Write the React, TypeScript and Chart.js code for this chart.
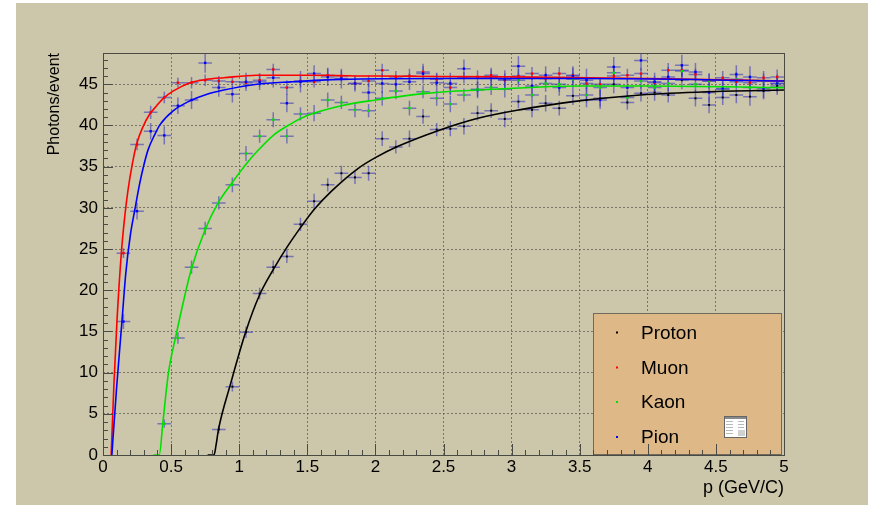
import React, { useEffect, useRef } from "react";
import { Chart, registerables } from "chart.js";

Chart.register(...registerables);

// ---------- data ----------
const binCenters = [
  0.15, 0.25, 0.35, 0.45, 0.55, 0.65, 0.75, 0.85, 0.95,
  1.05, 1.15, 1.25, 1.35, 1.45, 1.55, 1.65, 1.75, 1.85, 1.95,
  2.05, 2.15, 2.25, 2.35, 2.45, 2.55, 2.65, 2.75, 2.85, 2.95,
  3.05, 3.15, 3.25, 3.35, 3.45, 3.55, 3.65, 3.75, 3.85, 3.95,
  4.05, 4.15, 4.25, 4.35, 4.45, 4.55, 4.65, 4.75, 4.85, 4.95,
];
const binHalfWidth = 0.05;

const seriesNames = ["Proton", "Muon", "Kaon", "Pion"];

const protonY = [
  null, null, null, null, null, null, null, 3.1, 8.3,
  14.9, 19.6, 22.8, 24.1, 28.0, 30.8, 32.8, 34.2, 33.7, 34.2,
  38.4, 37.4, 38.4, 41.1, 39.5, 39.6, 39.9, 41.5, 41.8, 40.8,
  42.9, 41.9, 42.7, 42.1, 43.6, 43.1, 43.3, 45.0, 42.8, 43.9,
  44.0, 43.7, 45.5, 43.3, 42.5, 43.4, 43.7, 43.5, 44.2, 44.8,
];
const protonErr = [
  null, null, null, null, null, null, null, 0.5, 0.6,
  0.7, 0.7, 0.8, 0.8, 0.8, 0.9, 0.8, 0.9, 0.8, 0.9,
  0.9, 0.8, 1.0, 0.9, 0.8, 0.9, 1.0, 0.9, 0.9, 1.0,
  0.8, 0.9, 1.0, 0.9, 1.1, 0.9, 1.0, 1.1, 0.9, 1.0,
  1.0, 0.9, 1.1, 1.0, 1.0, 0.9, 1.0, 1.1, 1.0, 1.1,
];

const muonY = [
  24.5, 37.7, 41.6, 43.4, 45.2, 45.2, 45.5, 45.4, 45.3,
  45.2, 45.5, 46.8, 44.6, 45.4, 45.3, 46.1, 46.0, 45.1, 45.4,
  46.7, 45.9, 46.0, 46.5, 45.6, 44.6, 45.8, 45.9, 46.1, 45.5,
  46.0, 46.3, 45.7, 46.3, 46.1, 45.1, 45.0, 46.0, 46.1, 46.3,
  45.2, 46.7, 46.7, 46.2, 45.4, 45.8, 45.3, 45.2, 45.8, 45.9,
];
const muonErr = [
  0.6, 0.7, 0.8, 0.7, 0.6, 0.7, 0.7, 0.6, 0.6,
  0.7, 0.8, 0.7, 0.9, 0.8, 0.7, 0.8, 0.7, 0.8, 0.7,
  0.8, 0.7, 0.9, 0.7, 0.8, 0.9, 0.7, 0.8, 0.7, 0.8,
  0.9, 0.8, 0.7, 0.8, 0.9, 0.7, 0.8, 0.9, 0.8, 0.7,
  0.8, 0.9, 0.8, 0.7, 0.9, 0.8, 0.7, 0.8, 0.8, 0.9,
];

const kaonY = [
  null, null, null, 3.8, 14.2, 22.8, 27.5, 30.6, 32.8,
  36.6, 38.7, 40.7, 38.7, 41.4, 41.5, 43.1, 42.8, 41.9, 41.8,
  43.3, 44.2, 42.1, 44.1, 43.3, 42.6, 43.7, 44.4, 44.6, 44.4,
  45.5, 43.7, 45.1, 45.0, 45.6, 43.7, 44.6, 46.4, 43.4, 45.4,
  44.6, 45.1, 46.6, 45.0, 45.4, 44.4, 45.6, 44.6, 45.4, 45.1,
];
const kaonErr = [
  null, null, null, 0.5, 0.7, 0.8, 0.8, 0.8, 0.9,
  0.9, 0.8, 0.9, 0.9, 0.8, 1.0, 0.9, 0.8, 0.9, 0.8,
  0.9, 1.0, 0.9, 0.8, 0.9, 1.0, 0.8, 0.9, 0.9, 1.0,
  0.8, 0.9, 1.0, 0.9, 0.8, 0.9, 1.0, 0.9, 0.8, 0.9,
  1.0, 0.9, 0.8, 1.0, 0.9, 0.8, 0.9, 1.0, 0.9, 0.8,
];

const pionY = [
  16.2, 29.6, 39.3, 38.8, 42.4, 43.1, 47.6, 44.6, 43.8,
  45.3, 45.3, 45.8, 42.7, 45.3, 46.3, 45.9, 45.7, 45.1, 44.0,
  45.1, 45.0, 45.3, 46.3, 45.2, 45.1, 46.9, 44.3, 45.8, 45.6,
  47.2, 44.8, 46.1, 44.6, 46.0, 45.5, 43.1, 47.1, 44.6, 47.9,
  45.3, 45.9, 47.3, 46.5, 44.0, 44.5, 46.2, 45.9, 44.5, 45.1,
];
const pionErr = [
  0.9, 1.0, 1.0, 1.1, 1.0, 1.1, 1.2, 1.1, 1.0,
  1.1, 1.0, 1.2, 1.1, 1.3, 1.0, 1.1, 1.2, 1.0, 1.1,
  1.2, 1.1, 1.0, 1.2, 1.1, 1.3, 1.1, 1.0, 1.2, 1.1,
  1.2, 1.3, 1.1, 1.0, 1.2, 1.4, 1.1, 1.2, 1.0, 1.3,
  1.1, 1.2, 1.3, 1.1, 1.2, 1.0, 1.1, 1.3, 1.2, 1.1,
];

// fitted curves
const protonFitX = [0.768, 0.815, 0.83, 0.848, 0.936, 1.047, 1.146, 1.25, 1.35, 1.45, 1.55, 1.676, 1.874, 2.0, 2.17, 2.465, 2.76, 3.057, 3.45, 3.944, 4.437, 5.0];
const protonFitY = [0, 0, 1.2, 3.1, 8.6, 14.9, 19.3, 22.5, 25.2, 27.6, 29.8, 32.0, 34.8, 36.1, 37.5, 39.4, 40.9, 41.9, 42.9, 43.7, 44.1, 44.3];

const muonFitX = [0.06, 0.08, 0.103, 0.135, 0.16, 0.184, 0.215, 0.246, 0.295, 0.34, 0.394, 0.443, 0.517, 0.64, 0.76, 0.887, 1.13, 1.5, 2.0, 3.0, 4.0, 5.0];
const muonFitY = [0, 8.5, 16.4, 24.6, 29.0, 32.2, 35.3, 37.7, 39.9, 41.3, 42.4, 43.3, 44.2, 45.2, 45.6, 45.8, 46.1, 46.1, 46.0, 45.9, 45.7, 45.4];

const kaonFitX = [0.37, 0.413, 0.44, 0.48, 0.537, 0.6, 0.646, 0.746, 0.845, 0.95, 1.05, 1.134, 1.257, 1.38, 1.5, 1.75, 2.0, 2.37, 2.86, 3.5, 4.0, 5.0];
const kaonFitY = [0, 0, 4.0, 9.9, 14.6, 19.3, 22.4, 27.2, 30.6, 33.1, 35.3, 36.9, 38.9, 40.2, 41.2, 42.4, 43.1, 43.9, 44.4, 44.8, 44.8, 44.6];

const pionFitX = [0.065, 0.1, 0.14, 0.167, 0.2, 0.234, 0.27, 0.3, 0.332, 0.38, 0.419, 0.517, 0.64, 0.764, 0.887, 1.13, 1.38, 1.75, 2.5, 3.5, 5.0];
const pionFitY = [0, 8.2, 16.4, 22.0, 26.6, 29.8, 33.0, 35.2, 37.1, 38.9, 40.1, 41.8, 43.0, 43.8, 44.3, 45.0, 45.3, 45.6, 45.7, 45.7, 45.4];

const xTitle = "p (GeV/C)";
const yTitle = "Photons/event";

// ---------- style ----------
const BG = "rgb(204,198,170)";
const LEGEND_BG = "rgb(222,184,135)";
const FRAME = "#4a4a44";
const ERR_COLOR = "rgba(50,50,190,0.55)";
const COLORS = ["#000000", "#ff0000", "#00e000", "#0000ff"];
const FONT = "'Liberation Sans', Arial, Helvetica, sans-serif";

const points = (ys: (number | null)[]) =>
  binCenters
    .map((x, i) => (ys[i] == null ? null : { x, y: ys[i] as number }))
    .filter((p) => p !== null) as { x: number; y: number }[];
const errs = (ys: (number | null)[], es: (number | null)[]) =>
  binCenters
    .map((x, i) => (ys[i] == null ? null : { x, y: ys[i] as number, e: es[i] as number }))
    .filter((p) => p !== null);
const curve = (xs: number[], ys: number[]) => xs.map((x, i) => ({ x, y: ys[i] }));

export default function App() {
  const ref = useRef<HTMLCanvasElement | null>(null);

  useEffect(() => {
    const canvas = ref.current;
    if (!canvas) return;

    const seriesY = [protonY, muonY, kaonY, pionY];
    const seriesE = [protonErr, muonErr, kaonErr, pionErr];
    const fits = [
      curve(protonFitX, protonFitY),
      curve(muonFitX, muonFitY),
      curve(kaonFitX, kaonFitY),
      curve(pionFitX, pionFitY),
    ];

    const pointSets: any[] = seriesNames.map((name, k) => ({
      label: name,
      data: points(seriesY[k]),
      errData: errs(seriesY[k], seriesE[k]),
      pointStyle: "rect",
      pointRadius: k === 0 ? 1.4 : 1.7,
      pointBackgroundColor: COLORS[k],
      pointBorderWidth: 0,
      showLine: false,
      order: 10 + (3 - k),
    }));
    const fitSets: any[] = seriesNames.map((name, k) => ({
      label: name + " fit",
      data: fits[k],
      showLine: true,
      pointRadius: 0,
      borderColor: COLORS[k],
      borderWidth: 1.6,
      cubicInterpolationMode: "monotone",
      fill: false,
      order: 3 - k,
    }));

    const rootPlugin = {
      id: "rootStyle",
      beforeDraw(chart: any) {
        const c = chart.ctx;
        c.save();
        c.fillStyle = BG;
        c.fillRect(0, 0, chart.width, chart.height);
        c.restore();
      },
      beforeDatasetsDraw(chart: any) {
        const c = chart.ctx;
        const xs = chart.scales.x;
        const ys = chart.scales.y;
        const a = chart.chartArea;
        c.save();
        c.beginPath();
        c.rect(a.left, a.top, a.right - a.left, a.bottom - a.top);
        c.clip();
        c.strokeStyle = ERR_COLOR;
        c.lineWidth = 1.5;
        chart.data.datasets.forEach((ds: any) => {
          if (!ds.errData) return;
          ds.errData.forEach((p: any) => {
            const px = xs.getPixelForValue(p.x);
            const py = ys.getPixelForValue(p.y);
            const x0 = xs.getPixelForValue(p.x - binHalfWidth);
            const x1 = xs.getPixelForValue(p.x + binHalfWidth);
            const y0 = ys.getPixelForValue(p.y - p.e);
            const y1 = ys.getPixelForValue(p.y + p.e);
            c.beginPath();
            c.moveTo(x0, py);
            c.lineTo(x1, py);
            c.moveTo(px, y0);
            c.lineTo(px, y1);
            c.stroke();
          });
        });
        c.restore();
      },
      afterDatasetsDraw(chart: any) {
        const c = chart.ctx;
        const a = chart.chartArea;
        // legend box
        const lx = 577, ly = 310, lw = a.right - 2 - 577, lh = a.bottom - 310;
        c.save();
        c.fillStyle = LEGEND_BG;
        c.fillRect(lx, ly, lw, lh);
        c.strokeStyle = "#6e6a5e";
        c.lineWidth = 1;
        c.strokeRect(lx + 0.5, ly + 0.5, lw - 1, lh - 1);
        c.font = `19px ${FONT}`;
        c.textBaseline = "middle";
        c.textAlign = "left";
        const rows = [329.5, 364.5, 399, 434];
        seriesNames.forEach((name, k) => {
          c.fillStyle = COLORS[k];
          c.fillRect(600, rows[k] - 1, 2, 2);
          c.fillStyle = "#000";
          c.fillText(name, 625, rows[k] + 1);
        });
        // tiny stats-box icon
        const ix = 708, iy = 413;
        c.fillStyle = "#ffffff";
        c.fillRect(ix, iy, 23, 22);
        c.strokeStyle = "#666";
        c.strokeRect(ix + 0.5, iy + 0.5, 22, 21);
        c.fillStyle = "#8a8a8a";
        c.fillRect(ix + 1, iy + 1, 21, 2);
        c.fillStyle = "#b8b8b8";
        for (let r = 0; r < 5; r++) {
          c.fillRect(ix + 2, iy + 5 + r * 3, 7, 1);
          c.fillRect(ix + 14, iy + 5 + r * 3, 6, 1);
        }
        c.fillStyle = "#d0d0d0";
        c.fillRect(ix + 14, iy + 14, 7, 6);
        c.restore();
      },
      afterDraw(chart: any) {
        const c = chart.ctx;
        const a = chart.chartArea;
        const xs = chart.scales.x;
        const ys = chart.scales.y;
        c.save();
        c.strokeStyle = FRAME;
        c.lineWidth = 1;
        c.beginPath();
        for (let i = 0; i <= 50; i++) {
          const v = i / 10;
          const px = Math.round(xs.getPixelForValue(v)) + 0.5;
          const len = i % 5 === 0 ? 11 : 5;
          c.moveTo(px, a.bottom);
          c.lineTo(px, a.bottom - len);
        }
        for (let v = 0; v <= 48; v++) {
          const py = Math.round(ys.getPixelForValue(v)) + 0.5;
          const len = v % 5 === 0 ? 10 : 5;
          c.moveTo(a.left, py);
          c.lineTo(a.left + len, py);
        }
        c.stroke();
        c.strokeRect(Math.round(a.left) + 0.5, Math.round(a.top) + 0.5, Math.round(a.right - a.left), Math.round(a.bottom - a.top));
        c.restore();
      },
    };

    const onlyMajor = (step: number) => (scale: any) => {
      scale.ticks = scale.ticks.filter(
        (t: any) => Math.abs(t.value / step - Math.round(t.value / step)) < 1e-6
      );
    };

    const chart = new Chart(canvas, {
      type: "scatter",
      data: { datasets: [...fitSets, ...pointSets] },
      options: {
        responsive: false,
        animation: false,
        events: [],
        layout: { padding: { left: 0, right: 84, top: 50, bottom: 0 } },
        plugins: { legend: { display: false }, tooltip: { enabled: false }, title: { display: false } },
        scales: {
          x: {
            type: "linear",
            min: 0,
            max: 5,
            afterBuildTicks: onlyMajor(0.5),
            afterFit: (s: any) => {
              s.height = 50;
            },
            ticks: {
              stepSize: 0.5,
              autoSkip: false,
              maxRotation: 0,
              padding: 2,
              color: "#000",
              font: { family: FONT, size: 17 },
              callback: (v: any) => String(Math.round(Number(v) * 10) / 10),
            },
            grid: { color: "rgba(95,92,80,0.75)", drawTicks: false, lineWidth: 1 },
            border: { display: false, dash: [2, 2] },
            title: {
              display: true,
              text: xTitle,
              align: "end",
              color: "#000",
              font: { family: FONT, size: 18 },
              padding: { top: 0, bottom: 6 },
            },
          },
          y: {
            type: "linear",
            min: 0,
            max: 48.8,
            afterBuildTicks: onlyMajor(5),
            afterFit: (s: any) => {
              s.width = 87;
            },
            ticks: {
              stepSize: 5,
              autoSkip: false,
              padding: 5,
              color: "#000",
              font: { family: FONT, size: 17 },
              callback: (v: any) => String(Math.round(Number(v))),
            },
            grid: { color: "rgba(95,92,80,0.75)", drawTicks: false, lineWidth: 1 },
            border: { display: false, dash: [2, 2] },
            title: {
              display: true,
              text: yTitle,
              align: "end",
              color: "#000",
              font: { family: FONT, size: 16 },
              padding: { top: 29, bottom: 0 },
            },
          },
        },
      } as any,
      plugins: [rootPlugin],
    });

    return () => chart.destroy();
  }, []);

  return (
    <canvas
      ref={ref}
      width={852}
      height={502}
      style={{ position: "absolute", left: 16, top: 3, width: 852, height: 502, display: "block" }}
    />
  );
}
